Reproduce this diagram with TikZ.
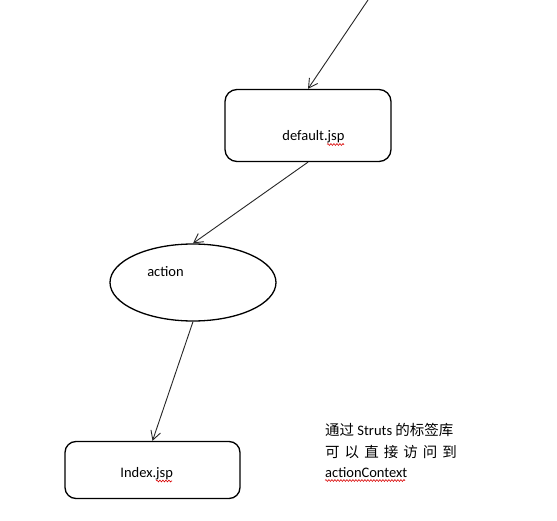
\documentclass[tikz,border=0pt]{standalone}
\usepackage{fontspec}
\setmainfont{Carlito}
\newfontfamily\cjk{Noto Sans CJK SC}
\usetikzlibrary{arrows.meta,shapes.geometric,decorations.pathmorphing}
\begin{document}
\begin{tikzpicture}[x=1pt,y=-1pt,
  shapebox/.style={draw, line width=1.3pt, rounded corners=12pt, inner sep=0pt},
  oval/.style={draw, ellipse, line width=1.3pt, inner sep=0pt},
  conn/.style={draw=black!85, line width=0.9pt, -{Straight Barb[length=9pt,width=10pt,line width=0.9pt]}},
  lbl/.style={inner sep=0pt, font=\fontsize{14.5}{17}\selectfont},
  squig/.style={draw=red!85!black, line width=0.6pt, decorate, decoration={snake, amplitude=0.9pt, segment length=3pt}}]
\useasboundingbox[fill=white] (0,0) rectangle (557,521);
% shapes
\node[shapebox, minimum width=166pt, minimum height=72pt] (def) at (308,125.5) {};
\node[oval, minimum width=166pt, minimum height=77pt] (act) at (193,282.5) {};
\node[shapebox, minimum width=175pt, minimum height=57pt, rounded corners=11pt] (idx) at (152.5,470) {};
% labels
\node[lbl, anchor=base] (dtxt) at (313.5,141) {default.jsp};
\node[lbl, anchor=base] (atxt) at (165.5,276.7) {action};
\node[lbl, anchor=base] (itxt) at (146.7,477.3) {Index.jsp};
% note
\node[lbl, anchor=base west] (n1) at (325,435.5) {{\cjk 通过} Struts {\cjk 的标签库}};
\node[lbl, anchor=base west] (n2) at (325,457.5) {\hbox to 131.7pt{\cjk 可\hfill 以\hfill 直\hfill 接\hfill 访\hfill 问\hfill 到}};
\node[lbl, anchor=base west] (n3) at (325,477) {actionContext};
% connectors
\coordinate (top) at (368,0);
\draw[conn] (top) -- (def.north);
\draw[conn] (def.south) -- (act.north);
\draw[conn] (act.south) -- (idx.north);
% spell-check marks
\draw[squig] (327,144.5) -- (344,144.5);
\draw[squig] (156,481) -- (172,481);
\draw[squig] (325,480.5) -- (405,480.5);
\end{tikzpicture}
\end{document}
